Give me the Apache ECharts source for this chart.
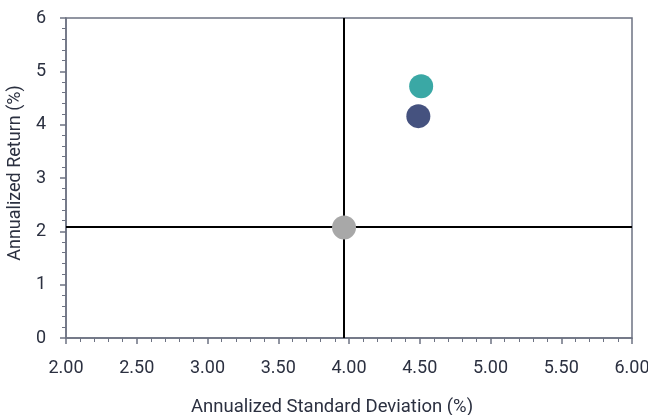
<!DOCTYPE html>
<html><head><meta charset="utf-8">
<script src="https://cdn.jsdelivr.net/npm/echarts@6/dist/echarts.min.js"></script>
<style>html,body{margin:0;padding:0;background:#fff}#c{width:648px;height:415px}</style>
</head><body><div id="c"></div>
<script>
const seriesNames = ['Fund A', 'Fund B', 'Benchmark'];
const seriesColors = ['#3aa8a5', '#45527f', '#a8a8a8'];
const stdDev = [4.51, 4.49, 3.965];
const returns = [4.72, 4.16, 2.07];
const crossX = 3.965;
const crossY = 2.08;
const xTicks = [2.00, 2.50, 3.00, 3.50, 4.00, 4.50, 5.00, 5.50, 6.00];
const yTicks = [0, 1, 2, 3, 4, 5, 6];

const txt = '#2b3040';
const axisCol = '#6e7383';
const chart = echarts.init(document.getElementById('c'));
const series = [{
  type: 'scatter', data: [], z: 1,
  markLine: {
    silent: true, symbol: 'none', label: {show: false},
    lineStyle: {color: '#000', width: 2, type: 'solid'},
    data: [{xAxis: crossX}, {yAxis: crossY}]
  }
}];
seriesNames.forEach((n, i) => {
  series.push({
    name: n, type: 'scatter', z: 5, symbolSize: 24,
    itemStyle: {color: seriesColors[i], opacity: 1},
    data: [[stdDev[i], returns[i]]]
  });
});
chart.setOption({
  animation: false,
  textStyle: {fontFamily: 'Roboto'},
  grid: {left: 66, right: 16, top: 18, bottom: 77, show: true, borderColor: axisCol, borderWidth: 1.5,
         outerBoundsMode: 'none', containLabel: false},
  xAxis: {
    type: 'value', min: xTicks[0], max: xTicks[xTicks.length - 1], interval: 0.5,
    name: 'Annualized Standard Deviation (%)', nameLocation: 'middle', nameGap: 60,
    nameTextStyle: {color: txt, fontSize: 18.5, fontFamily: 'Roboto', padding: [0, 34, 0, 0]},
    axisLine: {show: true, lineStyle: {color: axisCol, width: 1.5}},
    axisTick: {show: true, length: 6, lineStyle: {color: axisCol, width: 1.5}},
    minorTick: {show: true, splitNumber: 5, length: 4, lineStyle: {color: axisCol, width: 1}},
    splitLine: {show: false},
    axisLabel: {color: txt, fontSize: 18, margin: 21, formatter: v => v.toFixed(2)}
  },
  yAxis: {
    type: 'value', min: yTicks[0], max: yTicks[yTicks.length - 1], interval: 1,
    name: 'Annualized Return (%)', nameLocation: 'middle', nameGap: 39,
    nameTextStyle: {color: txt, fontSize: 18, fontFamily: 'Roboto', padding: [0, 0, 0, 10]},
    axisLine: {show: true, lineStyle: {color: axisCol, width: 1.5}},
    axisTick: {show: true, length: 6, lineStyle: {color: axisCol, width: 1.5}},
    minorTick: {show: true, splitNumber: 5, length: 4, lineStyle: {color: axisCol, width: 1}},
    splitLine: {show: false},
    axisLabel: {color: txt, fontSize: 18, margin: 20}
  },
  series: series
});
</script></body></html>
